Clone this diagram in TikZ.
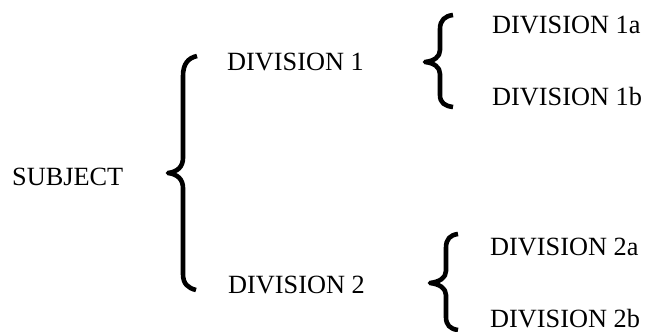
\documentclass[tikz,border=0pt]{standalone}
\usepackage{fontspec}
\setmainfont{Liberation Serif}
\begin{document}
\begin{tikzpicture}[x=1pt,y=-1pt,
  lbl/.style={anchor=base west,inner sep=0pt,font=\fontsize{26.3}{30}\selectfont},
  bracestroke/.style={line width=4.6pt,line join=round,black}]
\useasboundingbox (0,0) rectangle (659,332);
\node[lbl] (subj) at (12,185) {SUBJECT};
\node[lbl] (d1) at (227,70) {DIVISION 1};
\node[lbl] (d2) at (228,293) {DIVISION 2};
\node[lbl] (d1a) at (492,33) {DIVISION 1a};
\node[lbl] (d1b) at (492,105) {DIVISION 1b};
\node[lbl] (d2a) at (490,255) {DIVISION 2a};
\node[lbl] (d2b) at (490,327) {DIVISION 2b};
% large brace
\draw[bracestroke] (197,56) .. controls (188,58) and (183,64) .. (183,76) -- (183,158)
  .. controls (183,167) and (177,172) .. (168,173)
  .. controls (177,174) and (183,179) .. (183,188) -- (183,274)
  .. controls (183,284) and (188,288) .. (196,290);
% small brace 1
\draw[bracestroke] (453,15) .. controls (445,16) and (440,20) .. (440,29) -- (440,50)
  .. controls (440,57) and (434,61) .. (425,62)
  .. controls (434,63) and (440,67) .. (440,74) -- (440,95)
  .. controls (440,103) and (445,106) .. (453,107);
% small brace 2
\draw[bracestroke] (458,234) .. controls (450,235) and (446,239) .. (446,248) -- (446,271)
  .. controls (446,278) and (439,282) .. (430,283)
  .. controls (439,284) and (446,288) .. (446,295) -- (446,317)
  .. controls (446,325) and (450,329) .. (458,330);
\end{tikzpicture}
\end{document}
